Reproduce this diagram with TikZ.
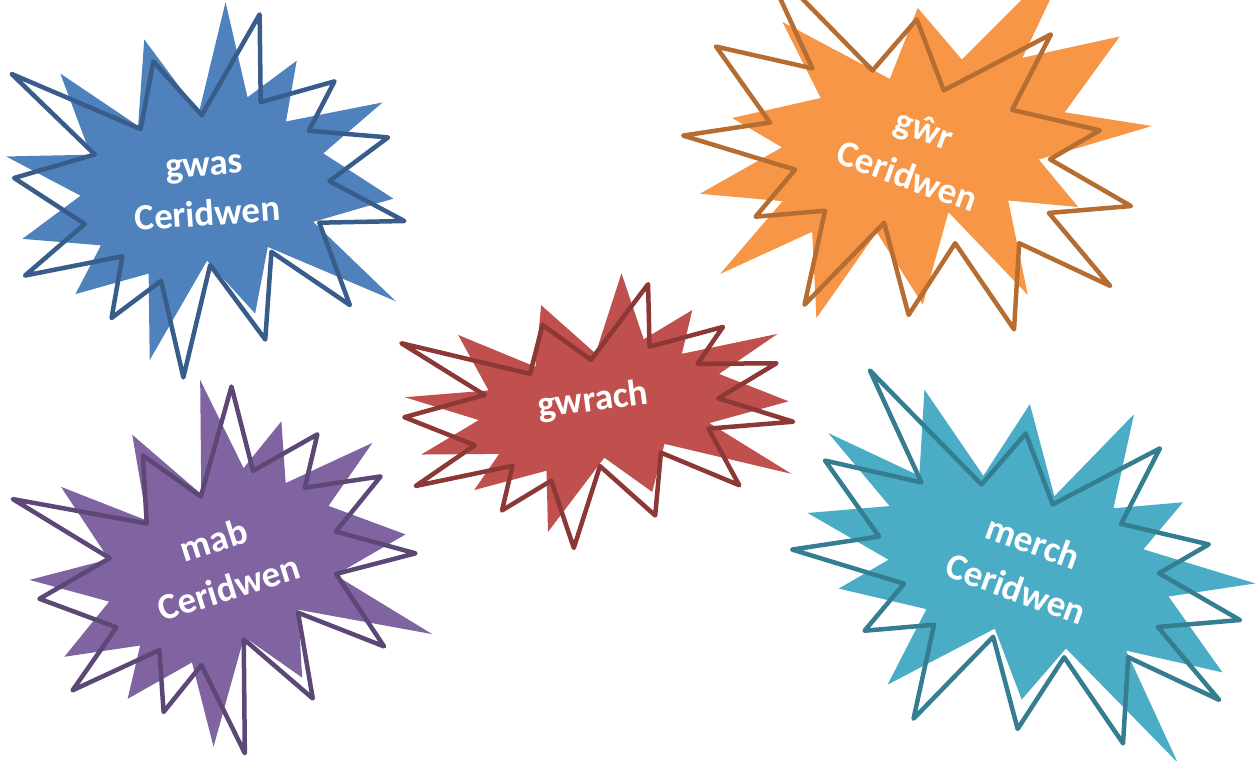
\documentclass[tikz,border=0pt]{standalone}
\usepackage{fontspec}
\usepackage{tikz}
\newfontfamily\burstfont{Carlito}
\definecolor{gwasfill}{HTML}{4F81BD}
\definecolor{gwasline}{HTML}{385D8A}
\definecolor{gwrfill}{HTML}{F79646}
\definecolor{gwrline}{HTML}{B66D31}
\definecolor{gwrachfill}{HTML}{C0504D}
\definecolor{gwrachline}{HTML}{8C3836}
\definecolor{mabfill}{HTML}{8064A2}
\definecolor{mabline}{HTML}{5C4776}
\definecolor{merchfill}{HTML}{4BACC6}
\definecolor{merchline}{HTML}{357D91}
\newcommand{\burst}[1]{\path[#1] (0,-0.2315) -- (0.1723,-0.5) -- (0.1553,-0.2535) -- (0.3509,-0.2937) -- (0.2732,-0.1613) -- (0.4767,-0.1233) -- (0.3151,-0.0150) -- (0.5,0.1153) -- (0.2795,0.0992) -- (0.3400,0.3377) -- (0.1491,0.1693) -- (0.1133,0.4138) -- (-0.0124,0.1914) -- (-0.1072,0.5) -- (-0.1428,0.2235) -- (-0.2795,0.3156) -- (-0.2376,0.1452) -- (-0.4938,0.1753) -- (-0.3277,0.0451) -- (-0.5,-0.1012) -- (-0.2858,-0.1474) -- (-0.4829,-0.3938) -- (-0.1615,-0.2074) -- (-0.1133,-0.3938) -- cycle;}

\begin{document}
\begin{tikzpicture}[x=1pt, y=-1pt,
    burstfill/.style={fill=#1, draw=none},
    burstline/.style={draw=#1, line width=4.5pt, line join=round},
    burstlabel/.style={text=white, align=center, inner sep=0pt, font=\burstfont\bfseries\fontsize{37}{50}\selectfont}
]
\useasboundingbox (0,0) rectangle (1260,760);
\clip (0,0) rectangle (1260,760);

\burst{burstfill=gwasfill, shift={(200,180)}, rotate=185, xscale=382, yscale=350}
\burst{burstline=gwasline, shift={(209,197)}, rotate=5, xscale=385, yscale=355}
\node[burstlabel, rotate=4] (gwas) at (206,191.6) {gwas\\Ceridwen};

\burst{burstfill=gwrfill, shift={(919,153)}, rotate=21.5, xscale=-459, yscale=344}
\burst{burstline=gwrline, shift={(914,164)}, rotate=-22, xscale=455, yscale=343}
\node[burstlabel, rotate=-20] (gwr) at (915.9,152.5) {gŵr\\Ceridwen};

\burst{burstfill=gwrachfill, shift={(597,401)}, rotate=187.4, xscale=380, yscale=247}
\burst{burstline=gwrachline, shift={(598.5,417.7)}, rotate=7.4, xscale=385, yscale=252}
\node[burstlabel, rotate=7.5] (gwrach) at (593.3,400.9) {gwrach};

\burst{burstfill=mabfill, shift={(218.3,559.5)}, rotate=198.5, xscale=371, yscale=352}
\burst{burstline=mabline, shift={(226.7,573.7)}, rotate=18.5, xscale=371, yscale=352}
\node[burstlabel, rotate=17.5] (mab) at (221.1,563.6) {mab\\Ceridwen};

\burst{burstfill=merchfill, shift={(1024.5,555)}, rotate=158, xscale=455, yscale=343}
\burst{burstline=merchline, shift={(1023,578)}, rotate=-22, xscale=455, yscale=343}
\node[burstlabel, rotate=-20] (merch) at (1024.7,565.1) {merch\\Ceridwen};
\end{tikzpicture}
\end{document}
